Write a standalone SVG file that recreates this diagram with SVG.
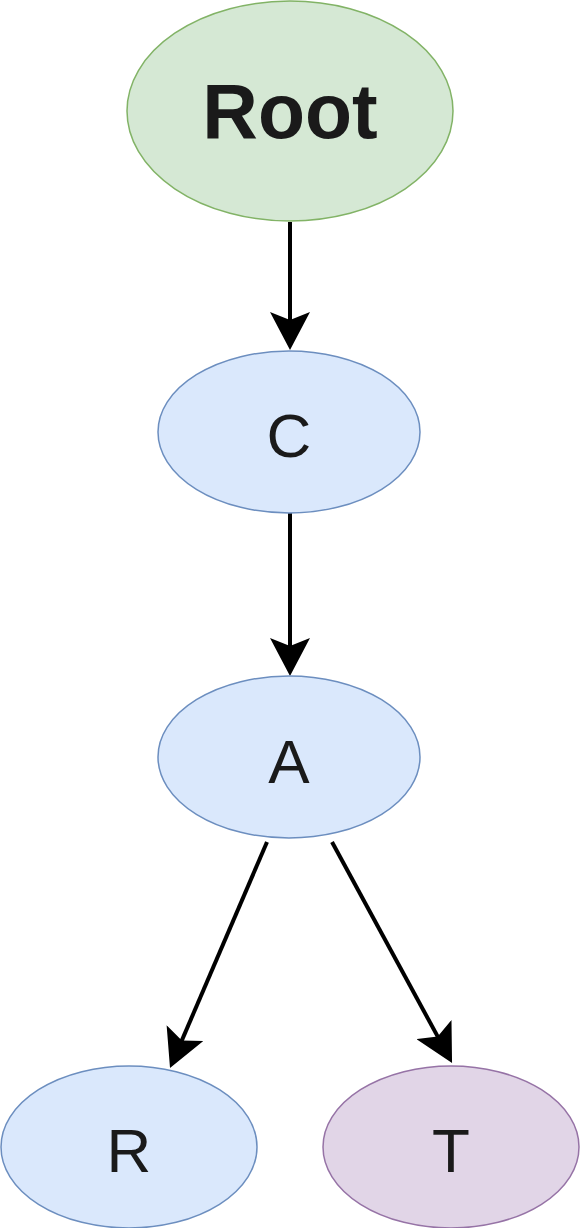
<svg xmlns="http://www.w3.org/2000/svg" width="580" height="1228" viewBox="0 0 580 1228">
  <style>
    .lbl { font-family: "Liberation Sans", Arial, sans-serif; fill: #1a1a1a; text-anchor: middle; }
    .blue { fill: #dae8fc; stroke: #6c8ebf; stroke-width: 1.5; }
    .green { fill: #d5e8d4; stroke: #82b366; stroke-width: 1.5; }
    .purple { fill: #e1d5e7; stroke: #9673a6; stroke-width: 1.5; }
    .edge { stroke: #000; stroke-width: 4; fill: none; }
  </style>
  <defs>
    <marker id="arrow" markerUnits="userSpaceOnUse" viewBox="0 0 38 40" markerWidth="38" markerHeight="40" refX="18" refY="20" orient="auto">
      <path d="M0,0 L38,20 L0,40 L8,20 Z" fill="#000"/>
    </marker>
  </defs>
  <rect width="580" height="1228" fill="#ffffff"/>
  <g id="connectors">
    <line class="edge" x1="290" y1="222" x2="290" y2="330" marker-end="url(#arrow)"/>
    <line class="edge" x1="290" y1="513" x2="290" y2="656" marker-end="url(#arrow)"/>
    <line class="edge" x1="267" y1="842" x2="177.9" y2="1049.6" marker-end="url(#arrow)"/>
    <line class="edge" x1="332" y1="842" x2="442.5" y2="1045.4" marker-end="url(#arrow)"/>
  </g>
  <g id="node-root">
    <ellipse class="green" cx="290" cy="111" rx="163" ry="110"/>
    <text class="lbl" x="290" y="138" font-size="77" font-weight="bold">Root</text>
  </g>
  <g id="node-c">
    <ellipse class="blue" cx="289" cy="432" rx="131" ry="81"/>
    <text class="lbl" x="289" y="457" font-size="62">C</text>
  </g>
  <g id="node-a">
    <ellipse class="blue" cx="289" cy="757" rx="131" ry="81"/>
    <text class="lbl" x="289" y="783" font-size="62">A</text>
  </g>
  <g id="node-r">
    <ellipse class="blue" cx="129" cy="1147" rx="128" ry="81"/>
    <text class="lbl" x="129" y="1172" font-size="62">R</text>
  </g>
  <g id="node-t">
    <ellipse class="purple" cx="451" cy="1147" rx="128" ry="81"/>
    <text class="lbl" x="451" y="1172" font-size="62">T</text>
  </g>
</svg>
